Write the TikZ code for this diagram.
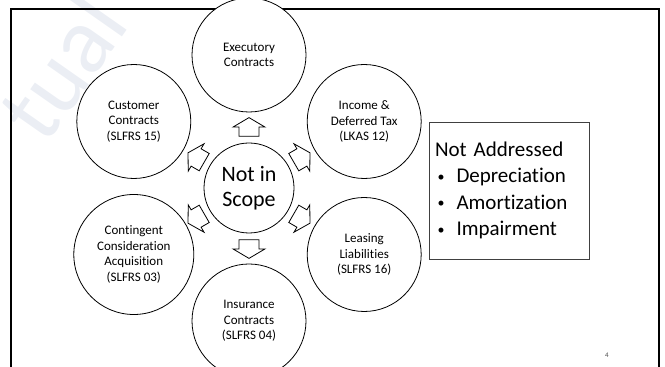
\documentclass[tikz,border=0pt]{standalone}
\usepackage{fontspec}
\setmainfont{Carlito}[Ligatures={NoCommon}]
\usetikzlibrary{calc}
\definecolor{wmark}{RGB}{235,238,244}
\newcommand{\listbul}{\hspace*{2.5pt}\makebox[19pt][l]{\raisebox{1.5pt}{\fontsize{14}{14}\selectfont\textbullet}}}
\begin{document}
\begin{tikzpicture}[x=1pt,y=1pt,
  outer/.style={circle, draw, line width=0.8pt, fill=white, minimum size=114pt, inner sep=0pt,
    align=center, font=\fontsize{13}{15.5}\selectfont},
  hub/.style={circle, draw, line width=0.8pt, fill=white, minimum size=90pt, inner sep=0pt,
    align=center, font=\fontsize{22}{24.5}\selectfont},
  pics/blockarrow/.style={code={
    \draw[line width=0.8pt, fill=white, line join=miter]
      (-9.35,-10) -- (0,-10) -- (0,-15.8) -- (9.35,0) -- (0,15.8) -- (0,10) -- (-9.35,10) -- cycle;}},
  listbox/.style={draw=black!75, line width=0.8pt, minimum width=160pt, minimum height=137pt,
    text width=148pt, inner xsep=6pt, align=left, font=\fontsize{21}{26.3}\selectfont}
]
\useasboundingbox (0,0) rectangle (665,367);
\clip (0,0) rectangle (665,367);
% watermark
\node[rotate=55, text=wmark, font=\fontsize{95}{95}\selectfont] (wm) at (62,300) {tual};
% frame
\draw[line width=1.6pt] (11,-5) -- (11,357.7) -- (659,357.7) -- (659,-5);
% circles
\node[hub] (nis) at (249,179) {Not in\\Scope};
\node[outer] (exe) at (249,312) {Executory\\Contracts};
\node[outer] (cus) at (133.8,245.5) {Customer\\Contracts\\(SLFRS 15)};
\node[outer] (inc) at (364.2,245.5) {Income \&\\Deferred Tax\\(LKAS 12)};
\node[outer, minimum size=120pt] (con) at (133.8,112.5) {Contingent\\Consideration\\Acquisition\\(SLFRS 03)};
\node[outer] (lea) at (364.2,112.5) {Leasing\\Liabilities\\(SLFRS 16)};
\node[outer] (ins) at (249,46) {Insurance\\Contracts\\(SLFRS 04)};
% block arrows
\pic[rotate=90]  at ($(nis)!0.459!(exe)$) {blockarrow};
\pic[rotate=30]  at ($(nis)!0.459!(inc)$) {blockarrow};
\pic[rotate=-30] at ($(nis)!0.459!(lea)$) {blockarrow};
\pic[rotate=-90] at ($(nis)!0.459!(ins)$) {blockarrow};
\pic[rotate=210] at ($(nis)!0.459!(con)$) {blockarrow};
\pic[rotate=150] at ($(nis)!0.459!(cus)$) {blockarrow};
% not addressed box
\node[listbox] (box) at (509,176.5) {Not Addressed\\
\listbul Depreciation\\
\listbul Amortization\\
\listbul Impairment};
% page number
\node[font=\fontsize{7}{8}\selectfont, text=black!70] (pg) at (607,12) {4};
\end{tikzpicture}
\end{document}
